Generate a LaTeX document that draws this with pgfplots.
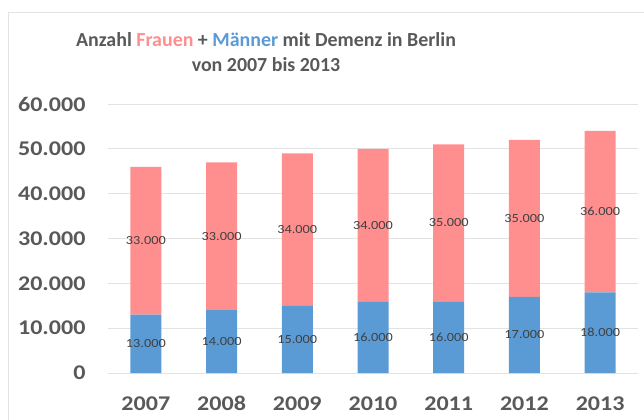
\documentclass[border=0pt]{standalone}
\usepackage{fontspec}
\setmainfont{Carlito}[FakeStretch=1.15]
\newfontfamily\titlefont{Carlito}
\usepackage{pgfplots}
\pgfplotsset{compat=1.18}
\usepackage{pgfplotstable}
\definecolor{pinkbar}{HTML}{FF8F8F}
\definecolor{bluebar}{HTML}{5B9BD5}
\definecolor{txtgray}{HTML}{595959}
\definecolor{gridgray}{HTML}{E3E3E3}
\definecolor{lblgray}{HTML}{404040}
\pgfplotstableread{
x maenner frauen
0 13000 33000
1 14000 33000
2 15000 34000
3 16000 34000
4 16000 35000
5 17000 35000
6 18000 36000
}\data
\pgfplotstableread{
x mid label
0 6500 13000
1 7000 14000
2 7500 15000
3 8000 16000
4 8000 16000
5 8500 17000
6 9000 18000
0 29500 33000
1 30500 33000
2 32000 34000
3 33000 34000
4 33500 35000
5 34500 35000
6 36000 36000
}\labels
\begin{document}
\begin{tikzpicture}[x=1bp,y=1bp]
\useasboundingbox (0,0) rectangle (644,419);
\draw[gridgray, line width=0.8bp] (8,-5) -- (8,407) -- (650,407);
\node[font=\titlefont\bfseries\fontsize{20}{25}\selectfont, text=txtgray, align=center] at (266,367)
  {Anzahl \textcolor{pinkbar}{Frauen} + \textcolor{bluebar}{Männer} mit Demenz in Berlin\\ von 2007 bis 2013};
\begin{axis}[
  at={(108bp,46bp)}, anchor=south west,
  scale only axis, width=530bp, height=269bp,
  ybar stacked, bar width=31bp,
  xmin=-0.5, xmax=6.5, ymin=0, ymax=60000,
  xtick={0,...,6}, xticklabels={2007,2008,2009,2010,2011,2012,2013},
  ytick={0,10000,...,60000},
  scaled y ticks=false,
  /pgf/number format/.cd, fixed, 1000 sep={.}, assume math mode=true, /pgfplots/.cd,
  axis line style={draw=none},
  major tick length=0pt,
  ymajorgrids, grid style={gridgray, line width=0.8bp},
  ticklabel style={font=\bfseries\fontsize{21}{24}\selectfont, text=txtgray},
  yticklabel style={xshift=-19bp},
  xticklabel style={yshift=-20bp},
  clip=false,
]
\addplot[fill=bluebar, draw=none] table[x=x, y=maenner] {\data};
\addplot[fill=pinkbar, draw=none] table[x=x, y=frauen] {\data};
\end{axis}
\begin{axis}[
  at={(108bp,46bp)}, anchor=south west,
  scale only axis, width=530bp, height=269bp,
  xmin=-0.5, xmax=6.5, ymin=0, ymax=60000,
  hide axis,
  /pgf/number format/.cd, fixed, 1000 sep={.}, assume math mode=true, /pgfplots/.cd,
  clip=false,
]
\addplot[only marks, mark=none, nodes near coords, point meta=explicit,
  every node near coord/.style={anchor=center, font=\fontsize{12.5}{15}\selectfont, text=lblgray}]
  table[x=x, y=mid, meta=label] {\labels};
\end{axis}
\end{tikzpicture}
\end{document}
